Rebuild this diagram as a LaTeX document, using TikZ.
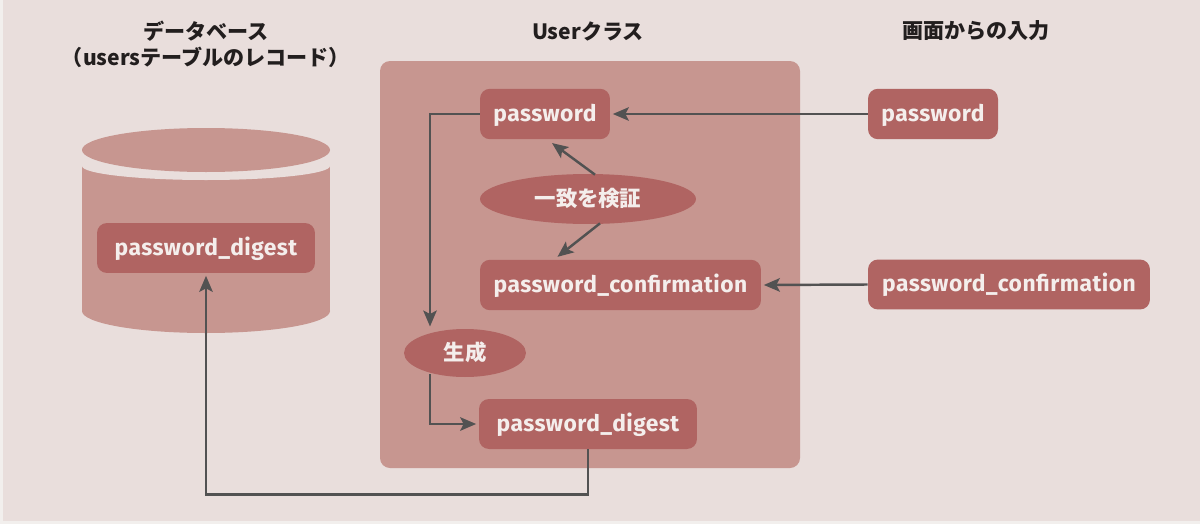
\documentclass[tikz,border=0pt]{standalone}
\usepackage{fontspec}
\setmainfont{Fira Sans}
\newfontfamily\fieldfont{Fira Sans}[LetterSpace=2]
\newfontfamily\jp{Noto Sans CJK JP}
\newfontfamily\jpp{Noto Sans CJK JP}[RawFeature=+palt]
\usetikzlibrary{arrows.meta,shapes.geometric,calc}
\definecolor{bgc}{RGB}{233,222,220}
\definecolor{edgec}{RGB}{242,239,237}
\definecolor{boxc}{RGB}{199,150,144}
\definecolor{nodec}{RGB}{176,100,98}
\definecolor{txtc}{RGB}{244,238,236}
\definecolor{arrc}{RGB}{82,82,82}
\definecolor{ttlc}{RGB}{34,30,30}
\tikzset{
  field/.style={fill=nodec, rounded corners=0.2cm, text=txtc, inner sep=0pt,
    minimum height=1.01cm, text height=2.1ex, text depth=0.5ex,
    font=\fieldfont\fontsize{13}{15}\selectfont\bfseries},
  oval/.style={ellipse, fill=nodec, text=txtc, inner sep=0pt,
    text height=1.75ex, text depth=0.1ex,
    font=\jpp\fontsize{12.2}{14}\selectfont\bfseries},
  ttl/.style={text=ttlc, font=\jp\fontsize{12}{14}\selectfont\bfseries, align=center, inner sep=0pt},
  arr/.style={draw=arrc, line width=1.4pt, -{Stealth[length=0.32cm,width=0.27cm,inset=0.07cm]}, shorten >=0.05cm},
  ln/.style={draw=arrc, line width=1.4pt}
}
\begin{document}
\begin{tikzpicture}[x=0.02cm,y=-0.02cm]
\useasboundingbox (0,0) rectangle (1200,524);
\fill[edgec] (0,0) rectangle (1200,524);
\fill[bgc] (3,0) rectangle (1200,521);
% titles
\node[ttl] (t1) at (206,31) {データベース};
\node[ttl] (t2) at (206,57) {（usersテーブルのレコード）};
\node[ttl] (t3) at (588,31) {Userクラス};
\node[ttl] (t4) at (976,31) {画面からの入力};
% container
\fill[boxc, rounded corners=0.2cm] (380,61) rectangle (800,468);
% cylinder
\fill[boxc] (206,311) ellipse [x radius=124, y radius=22];
\fill[boxc] (82,166) rectangle (330,311);
\fill[bgc] (206,166) ellipse [x radius=124, y radius=14];
\fill[boxc] (206,150) ellipse [x radius=124, y radius=22];
% nodes
\node[field, minimum width=2.6cm] (pw) at (545,114) {password};
\node[field, minimum width=5.62cm] (pwc) at (620.5,285) {password\_confirmation};
\node[field, minimum width=4.36cm, minimum height=1cm] (dig) at (588,424) {password\_digest};
\node[field, minimum width=4.36cm, minimum height=1cm] (dbdig) at (206,248) {password\_digest};
\node[field, minimum width=2.6cm] (inpw) at (933,114) {password};
\node[field, minimum width=5.64cm, minimum height=1cm] (inpwc) at (1009,284.5) {password\_confirmation};
\node[oval, minimum width=4.32cm, minimum height=1cm] (check) at (588,199) {一致を検証};
\node[oval, minimum width=2.44cm, minimum height=0.96cm] (gen) at (465,353) {生成};
\coordinate (genin) at (430,329);
\coordinate (genout) at (430,374);
% connectors
\draw[arr] (inpw.west) -- (pw.east);
\draw[arr] (inpwc.west) -- (pwc.east);
\draw[arr] ($(check.north)+(7,1)$) -- ($(pw.south)+(5,2)$);
\draw[arr] ($(check.south)+(12,-1)$) -- ($(pwc.north)+(-65,-1)$);
\draw[arr] (pw.west) -| (genin);
\draw[arr] (genout) |- (dig.west);
\draw[arr] (dig.south) -- ++(0,45) -| (dbdig.south);
\end{tikzpicture}
\end{document}
